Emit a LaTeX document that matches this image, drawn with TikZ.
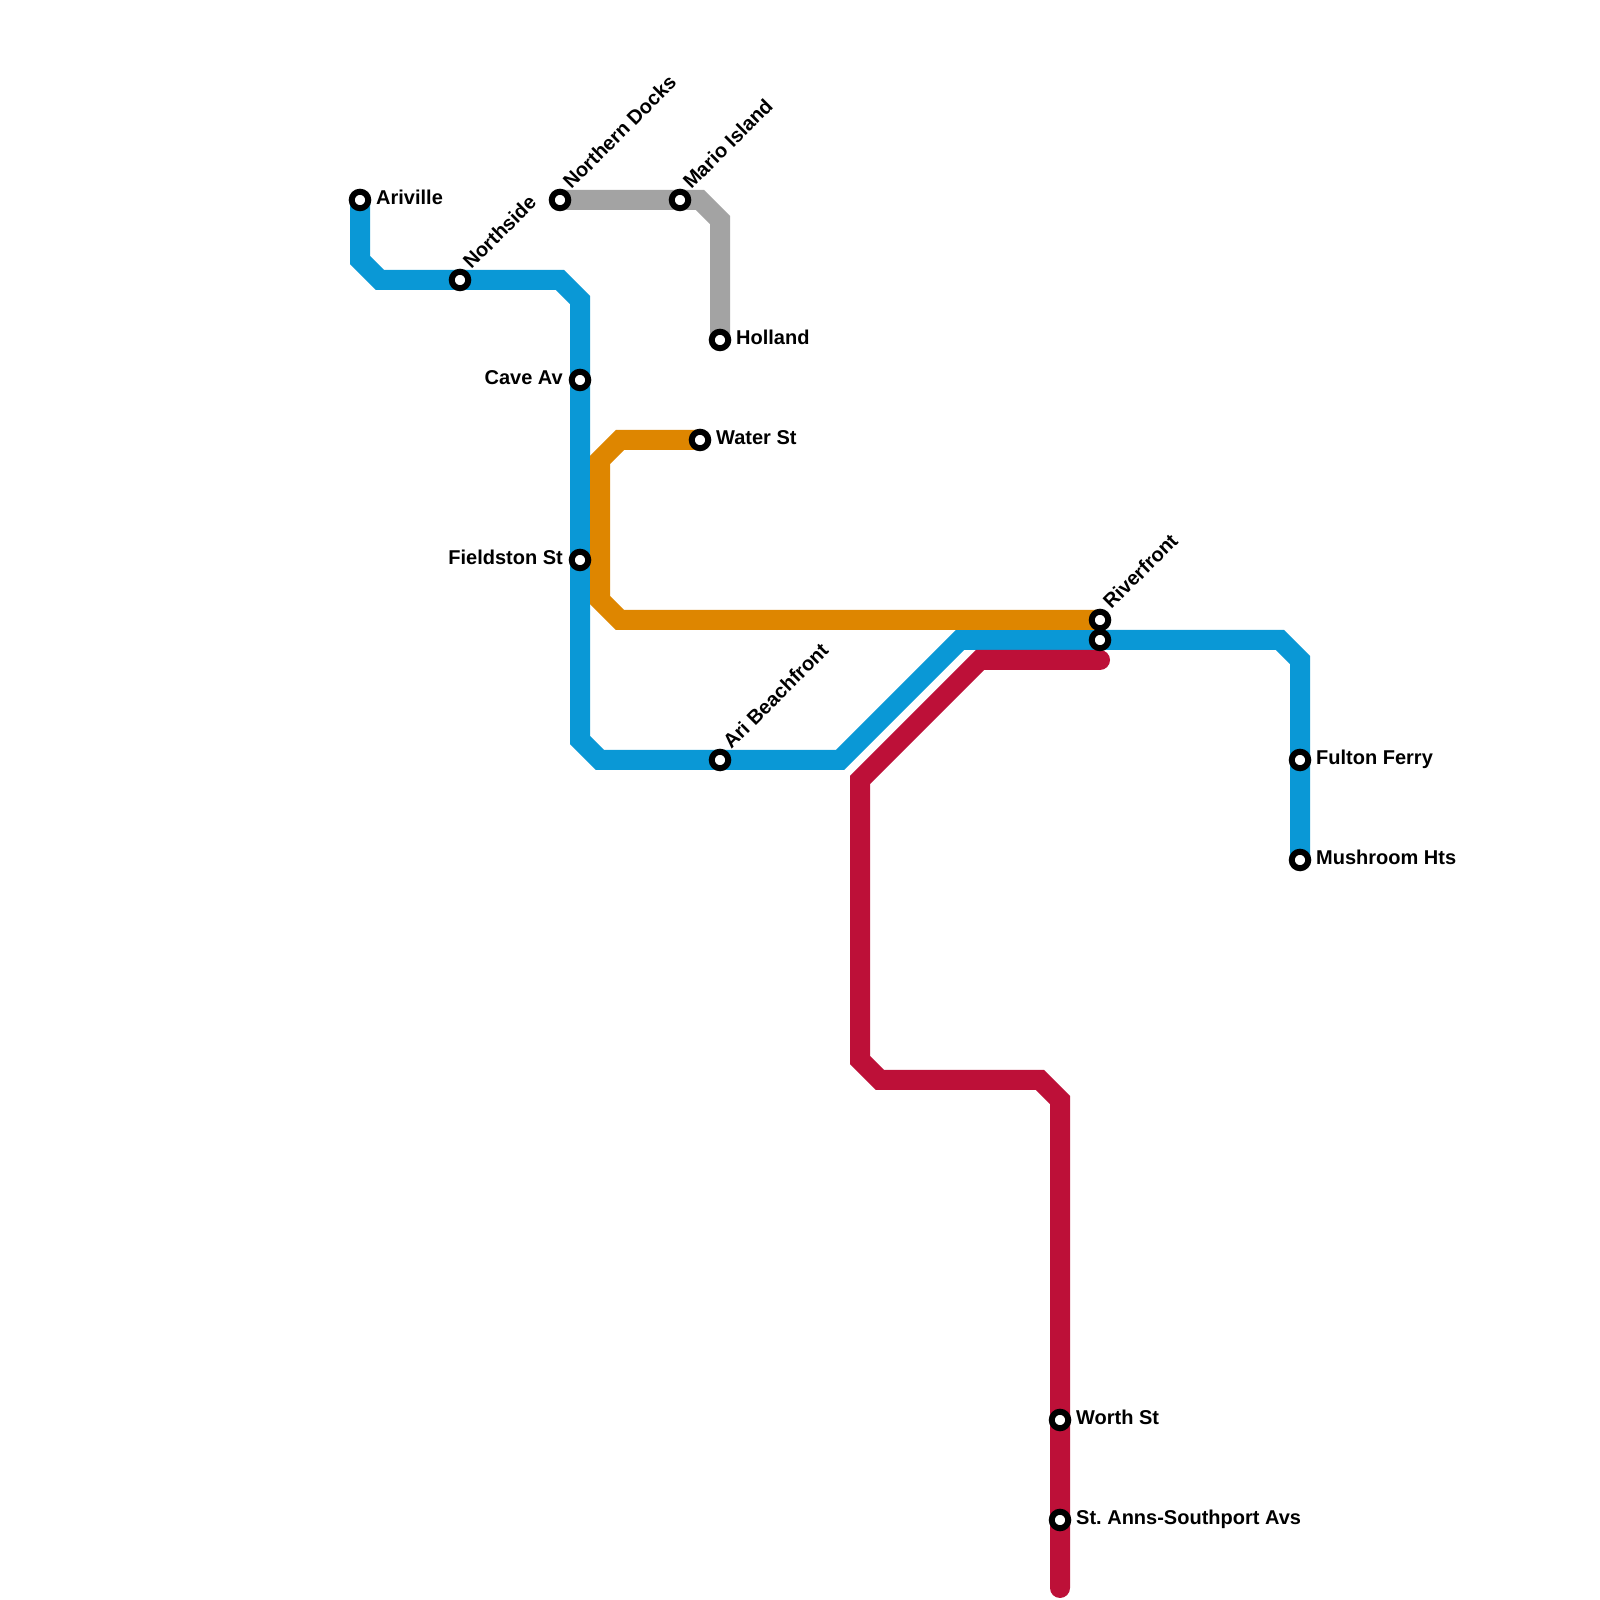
\documentclass[tikz,border=0pt]{standalone}
\usepackage{fontspec}
\setmainfont{Liberation Sans}
\usetikzlibrary{calc}
\frenchspacing
\definecolor{lblue}{RGB}{10,152,214}
\definecolor{lgrey}{RGB}{163,163,163}
\definecolor{lorange}{RGB}{222,134,0}
\definecolor{lred}{RGB}{189,16,56}
\tikzset{
  metro/.style={line width=20pt, line join=miter},
  station/.style={circle, draw=black, fill=white, line width=6pt, minimum size=16.5pt, inner sep=0pt},
  lab/.style={inner sep=0pt, font=\fontsize{20}{24}\selectfont\bfseries},
  labr/.style={lab, anchor=base west, xshift=16pt, yshift=-5pt},
  labl/.style={lab, anchor=base east, xshift=-17pt, yshift=-5pt},
  labd/.style={lab, anchor=base west, rotate=45}
}
\begin{document}
\frenchspacing
\begin{tikzpicture}[x=1pt,y=1pt]
\useasboundingbox[fill=white] (0,0) rectangle (1600,1600);
% station positions
\coordinate (p-ariville) at (360,1400);
\coordinate (p-northside) at (460,1320);
\coordinate (p-caveav) at (580,1220);
\coordinate (p-fieldston) at (580,1040);
\coordinate (p-aribeach) at (720,840);
\coordinate (p-riverB) at (1100,960);
\coordinate (p-riverO) at (1100,980);
\coordinate (p-fulton) at (1300,840);
\coordinate (p-mushroom) at (1300,740);
\coordinate (p-ndocks) at (560,1400);
\coordinate (p-mario) at (680,1400);
\coordinate (p-holland) at (720,1260);
\coordinate (p-water) at (700,1160);
\coordinate (p-worth) at (1060,180);
\coordinate (p-stanns) at (1060,80);
% bends
\coordinate (b1) at (360,1340);
\coordinate (b2) at (380,1320);
\coordinate (b3) at (560,1320);
\coordinate (b4) at (580,1300);
\coordinate (b5) at (580,860);
\coordinate (b6) at (600,840);
\coordinate (b7) at (840,840);
\coordinate (b8) at (960,960);
\coordinate (b9) at (1280,960);
\coordinate (b10) at (1300,940);
\coordinate (g1) at (700,1400);
\coordinate (g2) at (720,1380);
\coordinate (o1) at (620,1160);
\coordinate (o2) at (600,1140);
\coordinate (o3) at (600,1000);
\coordinate (o4) at (620,980);
\coordinate (r0) at (1100,940);
\coordinate (r1) at (980,940);
\coordinate (r2) at (860,820);
\coordinate (r3) at (860,540);
\coordinate (r4) at (880,520);
\coordinate (r5) at (1040,520);
\coordinate (r6) at (1060,500);
\coordinate (r7) at (1060,12);
% lines
\draw[metro, lblue] (p-ariville) -- (b1) -- (b2) -- (p-northside) -- (b3) -- (b4) -- (p-caveav) -- (p-fieldston) -- (b5) -- (b6) -- (p-aribeach) -- (b7) -- (b8) -- (p-riverB) -- (b9) -- (b10) -- (p-fulton) -- (p-mushroom);
\draw[metro, lgrey] (p-ndocks) -- (p-mario) -- (g1) -- (g2) -- (p-holland);
\draw[metro, lorange] (p-water) -- (o1) -- (o2) -- (o3) -- (o4) -- (p-riverO);
\draw[metro, lred, line cap=round] (r0) -- (r1) -- (r2) -- (r3) -- (r4) -- (r5) -- (r6) -- (p-worth) -- (p-stanns) -- (r7);
% stations
\node[station] (ariville) at (p-ariville) {};
\node[station] (northside) at (p-northside) {};
\node[station] (caveav) at (p-caveav) {};
\node[station] (fieldston) at (p-fieldston) {};
\node[station] (aribeach) at (p-aribeach) {};
\node[station] (riverB) at (p-riverB) {};
\node[station] (riverO) at (p-riverO) {};
\node[station] (fulton) at (p-fulton) {};
\node[station] (mushroom) at (p-mushroom) {};
\node[station] (ndocks) at (p-ndocks) {};
\node[station] (mario) at (p-mario) {};
\node[station] (holland) at (p-holland) {};
\node[station] (water) at (p-water) {};
\node[station] (worth) at (p-worth) {};
\node[station] (stanns) at (p-stanns) {};
% labels
\node[labr] (t-ariville) at (ariville.center) {Ariville};
\node[labr] (t-holland) at (holland.center) {Holland};
\node[labr] (t-water) at (water.center) {Water St};
\node[labr] (t-fulton) at (fulton.center) {Fulton Ferry};
\node[labr] (t-mushroom) at (mushroom.center) {Mushroom Hts};
\node[labr] (t-worth) at (worth.center) {Worth St};
\node[labr] (t-stanns) at (stanns.center) {St. Anns-Southport Avs};
\node[labl] (t-caveav) at (caveav.center) {Cave Av};
\node[labl] (t-fieldston) at (fieldston.center) {Fieldston St};
\node[labd] (t-northside) at ($(northside.center)+(11.3,9.9)$) {Northside};
\node[labd] (t-ndocks) at ($(ndocks.center)+(11.3,9.9)$) {Northern Docks};
\node[labd] (t-mario) at ($(mario.center)+(11.3,9.9)$) {Mario Island};
\node[labd] (t-river) at ($(riverO.center)+(11.3,9.9)$) {Riverfront};
\node[labd] (t-aribeach) at ($(aribeach.center)+(11.3,9.9)$) {Ari Beachfront};
\end{tikzpicture}
\end{document}
